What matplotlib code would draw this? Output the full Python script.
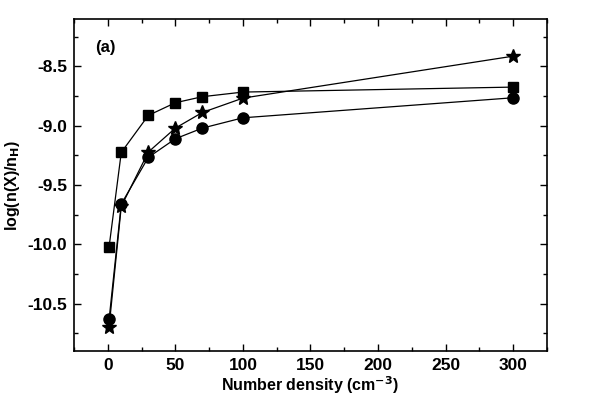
import matplotlib
matplotlib.use("Agg")
import matplotlib.pyplot as plt
from matplotlib.ticker import MultipleLocator

plt.rcParams['font.family'] = ['Liberation Sans', 'DejaVu Sans']
plt.rcParams['font.weight'] = 'bold'
plt.rcParams['axes.unicode_minus'] = False
plt.rcParams['mathtext.default'] = 'bf'

# number density points
density = [1, 10, 30, 50, 70, 100, 300]
# log abundances
squares = [-10.02, -9.225, -8.913, -8.806, -8.755, -8.716, -8.674]
circles = [-10.632, -9.66, -9.267, -9.11, -9.02, -8.933, -8.764]
stars = [-10.694, -9.68, -9.222, -9.02, -8.888, -8.767, -8.413]

fig = plt.figure(figsize=(5.89, 3.97), dpi=100)
ax = fig.add_axes([0.1256, 0.116, 0.8031, 0.836])

ax.plot(density, squares, '-s', color='black', lw=0.9, ms=7)
ax.plot(density, circles, '-o', color='black', lw=0.9, ms=8)
ax.plot(density, stars, '-*', color='black', lw=0.9, ms=10)

ax.set_xlim(-25, 325)
ax.set_ylim(-10.9, -8.1)
ax.xaxis.set_major_locator(MultipleLocator(50))
ax.xaxis.set_minor_locator(MultipleLocator(25))
ax.yaxis.set_major_locator(MultipleLocator(0.5))
ax.yaxis.set_minor_locator(MultipleLocator(0.25))
ax.tick_params(which='both', direction='in', top=True, right=True,
               labelsize=12.5, width=1)
ax.tick_params(which='major', length=5, pad=5)
ax.tick_params(which='minor', length=3)
for lab in ax.get_xticklabels() + ax.get_yticklabels():
    lab.set_fontweight('bold')
for s in ax.spines.values():
    s.set_linewidth(1.2)

ax.set_xlabel('Number density (cm$^{-3}$)', fontsize=11.5,
              fontweight='bold', labelpad=1)
ax.set_ylabel('log(n(X)/n$_{H}$)', fontsize=11.5,
              fontweight='bold', labelpad=4)
ax.text(-9, -8.38, '(a)', fontsize=12, fontweight='bold')

fig.savefig('out.png', dpi=100)
